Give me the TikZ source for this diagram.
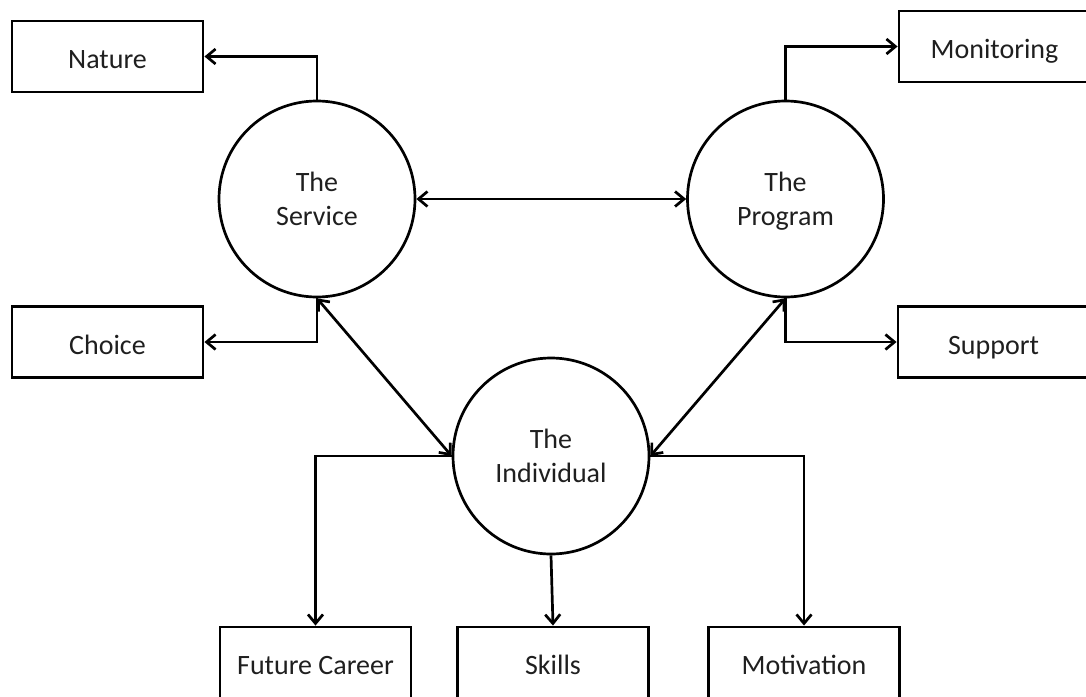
\documentclass[tikz,border=0pt]{standalone}
\usepackage{fontspec}
\setmainfont{Carlito}
\usetikzlibrary{arrows.meta}
\begin{document}
\begin{tikzpicture}[x=1pt,y=-1pt,
  every node/.style={font=\fontsize{28}{34}\selectfont, text=black!88},
  circ/.style={draw, circle, line width=2.7pt, minimum size=196pt, inner sep=0pt, align=center, text depth=0pt},
  box/.style={draw, rectangle, line width=2.9pt, minimum width=191pt, minimum height=71pt, inner sep=0pt, text height=24pt, text depth=0pt},
  conn/.style={line width=2.7pt, -{Straight Barb[length=9pt,width=15pt]}},
  dconn/.style={line width=2.7pt, {Straight Barb[length=9pt,width=15pt]}-{Straight Barb[length=9pt,width=15pt]}}]
\useasboundingbox (0,0) rectangle (1086,696);
\node[circ] (svc) at (317,199) {The\\Service};
\node[circ] (prg) at (785.5,199) {The\\Program};
\node[circ] (ind) at (551,456) {The\\Individual};
\node[box] (nat) at (107.5,56.5) {Nature};
\node[box] (mon) at (994.5,46.5) {Monitoring};
\node[box] (cho) at (107.5,342) {Choice};
\node[box] (sup) at (993.5,342) {Support};
\node[box] (fc) at (315.5,662.5) {Future Career};
\node[box] (sk) at (553,662.5) {Skills};
\node[box] (mot) at (804,662.5) {Motivation};
\draw[conn] (svc.north) |- (nat.east);
\draw[conn] (prg.north) |- (mon.west);
\draw[conn] (svc.south) |- (cho.east);
\draw[conn] (prg.south) |- (sup.west);
\draw[dconn] (svc.east) -- (prg.west);
\draw[dconn] (svc.south) -- (ind.west);
\draw[dconn] (prg.south) -- (ind.east);
\draw[conn] (ind.west) -| (fc.north);
\draw[conn] (ind.east) -| (mot.north);
\draw[conn] (ind.south) -- (sk.north);
\end{tikzpicture}
\end{document}
